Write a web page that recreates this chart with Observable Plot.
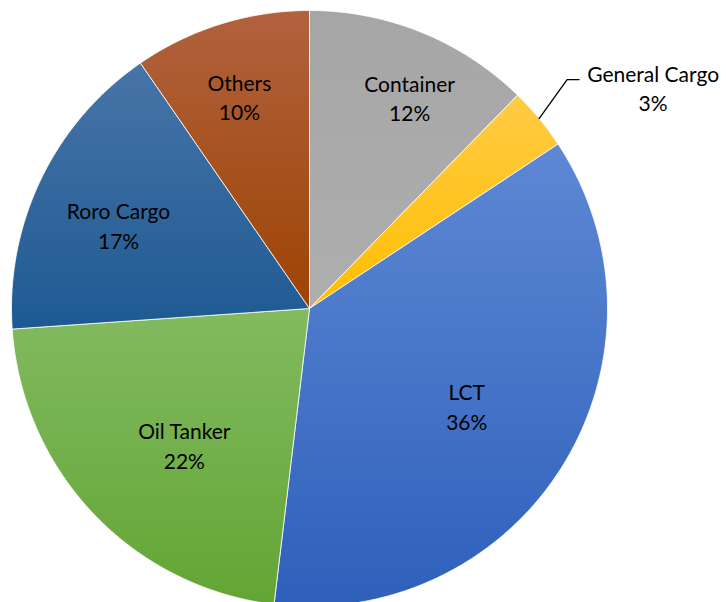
<!DOCTYPE html>
<html>
<head>
<meta charset="utf-8">
<script src="https://cdn.jsdelivr.net/npm/d3@7"></script>
<script src="https://cdn.jsdelivr.net/npm/@observablehq/plot@0.6"></script>
<style>
  html, body { margin: 0; padding: 0; background: #fff; }
</style>
</head>
<body>
<div id="chart"></div>
<script>
// ---- data ----
const names = ["Container", "General Cargo", "LCT", "Oil Tanker", "Roro Cargo", "Others"];
const values = [12.3, 3.4, 36.2, 22.0, 16.5, 9.6];
const pctLabels = ["12%", "3%", "36%", "22%", "17%", "10%"];

// ---- styles ----
const gradStops = [
  ["#A6A6A6", "#AEAEAE"],
  ["#FFCB45", "#FFBE00"],
  ["#5E88D4", "#2E60BB"],
  ["#82BA60", "#63A534"],
  ["#4874A8", "#1D5A92"],
  ["#B1623E", "#9D4303"]
];
const labelRadius = [0.785, null, 0.62, 0.62, 0.70, 0.75];
const labelShiftDeg = [3.2, 0, 0, -3.8, -2, -1];

const W = 728, H = 602;
const R = 298, cx = 309, cy = 308; // pixel layout of the pie

const total = d3.sum(values);
const slices = [];
const labels = [];
let acc = 0;
values.forEach((v, i) => {
  const a0 = acc / total * 2 * Math.PI;
  acc += v;
  const a1 = acc / total * 2 * Math.PI;
  const steps = Math.max(2, Math.ceil((a1 - a0) / (Math.PI / 360)));
  slices.push({name: names[i], x: 0, y: 0});
  for (let k = 0; k <= steps; k++) {
    const a = a0 + (a1 - a0) * k / steps;
    slices.push({name: names[i], x: Math.sin(a), y: Math.cos(a)});
  }
  slices.push({name: names[i], x: 0, y: 0});
  const am = (a0 + a1) / 2;
  labels.push({name: names[i], pct: pctLabels[i], am, r: labelRadius[i], la: am + labelShiftDeg[i] * Math.PI / 180});
});

// leader line and outside label for the small slice
const gc = labels[1];
const p0 = {x: Math.sin(gc.am), y: Math.cos(gc.am)};
const p1 = {x: p0.x + 28 / R, y: p0.y + 39 / R};
const p2 = {x: p1.x + 12 / R, y: p1.y};
const leader = [p0, p1, p2];
gc.x = p2.x + 74 / R; gc.y = p2.y - 7.5 / R;
labels.forEach(l => {
  if (l.r != null) { l.x = l.r * Math.sin(l.la); l.y = l.r * Math.cos(l.la); }
});

const svg = Plot.plot({
  width: W,
  height: H,
  margin: 0,
  style: {fontFamily: "Lato, 'Open Sans', sans-serif", background: "#fff"},
  x: {domain: [-cx / R, (W - cx) / R], range: [0, W], axis: null},
  y: {domain: [-(H - cy) / R, cy / R], range: [H, 0], axis: null},
  color: {domain: names, range: names.map((d, i) => `url(#grad${i})`)},
  marks: [
    Plot.line(slices, {x: "x", y: "y", z: "name", fill: "name", stroke: "white", strokeWidth: 0.8, strokeLinejoin: "round", curve: "linear"}),
    Plot.line(leader, {x: "x", y: "y", stroke: "#000", strokeWidth: 1.3}),
    Plot.text(labels, {x: "x", y: "y", text: d => d.name + "\n" + d.pct, fontSize: 21, lineHeight: 1.4, fill: "#000", textAnchor: "middle", lineAnchor: "middle"})
  ]
});

const defs = d3.select(svg).insert("defs", ":first-child");
gradStops.forEach((s, i) => {
  const g = defs.append("linearGradient").attr("id", `grad${i}`)
    .attr("x1", 0).attr("y1", 0).attr("x2", 0).attr("y2", 1);
  g.append("stop").attr("offset", "0%").attr("stop-color", s[0]);
  g.append("stop").attr("offset", "100%").attr("stop-color", s[1]);
});

document.getElementById("chart").appendChild(svg);
</script>
</body>
</html>
